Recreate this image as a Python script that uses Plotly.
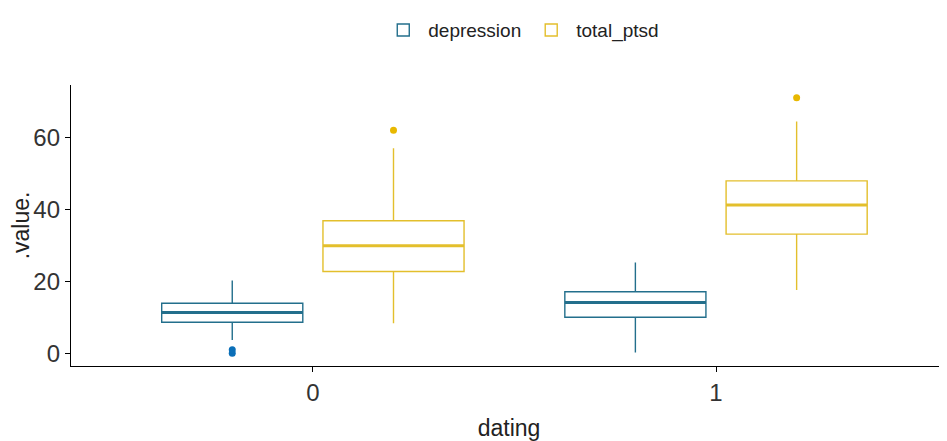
import plotly.graph_objects as go

groups = ["0", "1"]
series = ["depression", "total_ptsd"]

dep_q1 = [8.6, 10.0]
dep_median = [11.3, 14.1]
dep_q3 = [13.9, 17.1]
dep_lower = [3.7, 0.2]
dep_upper = [20.2, 25.2]
dep_outliers = [[0, 1], []]

pt_q1 = [22.7, 33.1]
pt_median = [29.9, 41.2]
pt_q3 = [36.8, 47.9]
pt_lower = [8.3, 17.6]
pt_upper = [57.0, 64.4]
pt_outliers = [[62], [71]]

line_colors = {"depression": "#236F8C", "total_ptsd": "#E3BF2C"}
point_colors = {"depression": "#0B6FB8", "total_ptsd": "#E8B800"}

stats = {
    "depression": (dep_q1, dep_median, dep_q3, dep_lower, dep_upper, dep_outliers),
    "total_ptsd": (pt_q1, pt_median, pt_q3, pt_lower, pt_upper, pt_outliers),
}

FONT = "Liberation Sans, Arial, sans-serif"

fig = go.Figure()
for name in series:
    q1, med, q3, lo, up, outl = stats[name]
    fig.add_trace(go.Box(
        name=name, x=groups, y=outl,
        q1=q1, median=med, q3=q3, lowerfence=lo, upperfence=up,
        boxpoints="outliers", pointpos=0, jitter=0,
        offsetgroup=name, whiskerwidth=0,
        fillcolor="rgba(255,255,255,0)",
        line=dict(color=line_colors[name], width=1.4),
        marker=dict(color=point_colors[name], size=7),
        hoverinfo="skip",
    ))
    # thicker median line (degenerate box at the median)
    fig.add_trace(go.Box(
        name=name, x=groups,
        q1=med, median=med, q3=med, lowerfence=med, upperfence=med,
        offsetgroup=name, whiskerwidth=0, boxpoints=False,
        fillcolor="rgba(255,255,255,0)",
        line=dict(color=line_colors[name], width=3),
        showlegend=False, hoverinfo="skip",
    ))

fig.update_layout(
    width=939, height=433,
    margin=dict(l=63, r=0, t=77, b=75),
    paper_bgcolor="white", plot_bgcolor="white",
    boxmode="group", boxgap=0.2, boxgroupgap=0.125,
    font=dict(family=FONT, color="#222222"),
    legend=dict(orientation="h", x=0.514, xanchor="center",
                y=0.949, yanchor="middle", yref="container",
                font=dict(size=19, family=FONT, color="#222222"),
                itemwidth=40, traceorder="normal"),
    xaxis=dict(
        type="category", range=[-0.6, 1.573], automargin=False,
        showline=True, linecolor="#000000", linewidth=1.3,
        ticks="outside", ticklen=5, tickcolor="#000000",
        tickfont=dict(size=24, family=FONT, color="#333333"),
        title=dict(text="dating", font=dict(size=23, family=FONT, color="#222222"), standoff=14),
        showgrid=False, zeroline=False,
    ),
    yaxis=dict(
        range=[-3.55, 74.55], automargin=False,
        tickvals=[0, 20, 40, 60],
        showline=True, linecolor="#000000", linewidth=1.3,
        ticks="outside", ticklen=5, tickcolor="#000000",
        tickfont=dict(size=24, family=FONT, color="#333333"),
        title=dict(text=".value.", font=dict(size=23, family=FONT, color="#222222"), standoff=6),
        showgrid=False, zeroline=False,
    ),
)

fig.write_html("out.html")
